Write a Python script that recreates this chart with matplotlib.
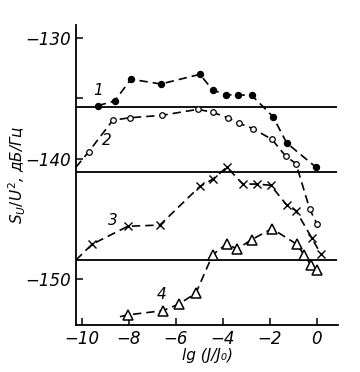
import matplotlib
matplotlib.use("Agg")
import matplotlib.pyplot as plt

# curve 1 - filled circles
x1 = [-9.32, -8.6, -7.91, -6.64, -4.98, -4.43, -3.87, -3.36, -2.77, -1.87, -1.28, -0.04]
y1 = [-135.6, -135.2, -133.4, -133.8, -133.0, -134.3, -134.7, -134.7, -134.75, -136.5, -138.7, -140.7]

# curve 2 - open circles
x2 = [-9.70, -8.68, -7.96, -6.60, -5.06, -4.43, -3.79, -3.32, -2.72, -1.91, -1.32, -0.89, -0.30, 0.0]
y2 = [-139.4, -136.8, -136.6, -136.4, -135.9, -136.15, -136.6, -137.05, -137.5, -138.4, -139.8, -140.4, -144.2, -145.4]

# curve 3 - crosses
x3 = [-9.57, -8.04, -6.68, -4.98, -4.43, -3.83, -3.15, -2.55, -1.96, -1.28, -0.89, -0.21, 0.17]
y3 = [-147.1, -145.6, -145.5, -142.3, -141.7, -140.7, -142.1, -142.1, -142.2, -143.85, -144.3, -146.6, -147.9]

# curve 4 - open triangles
x4 = [-8.04, -6.55, -5.87, -5.15, -4.43, -3.83, -3.40, -2.77, -1.91, -0.85, -0.55, -0.26, 0.0]
y4 = [-152.95, -152.6, -152.05, -151.15, -147.95, -147.05, -147.5, -146.7, -145.8, -147.1, -147.95, -148.8, -149.2]

# dashed line ends that carry no marker
line_start = {2: (-10.25, -140.7), 3: (-10.25, -148.4), 4: (-8.38, -153.1)}
line_end = {4: (0.26, -149.7), 2: (0.08, -146.1)}

hline_levels = [-135.7, -141.1, -148.4]
curve_labels = ["1", "2", "3", "4"]
label_pos = [(-9.3, -134.3), (-8.95, -138.5), (-8.7, -145.1), (-6.6, -151.3)]

xticks = [-10, -8, -6, -4, -2, 0]
yticks = [-130, -140, -150]

fig = plt.figure(figsize=(3.6, 3.72), dpi=100)
ax = fig.add_axes([0.211, 0.126, 0.728, 0.807])

curves = [
    (x1, y1, dict(marker='o', ms=4.3, mfc='black', mec='black')),
    (x2, y2, dict(marker='o', ms=4, mfc='white', mec='black', mew=0.9)),
    (x3, y3, dict(marker='x', ms=6, mec='black', mew=1.0)),
    (x4, y4, dict(marker='^', ms=7, mfc='white', mec='black', mew=1.1)),
]

for i, (xs, ys, mk) in enumerate(curves, start=1):
    lx, ly = list(xs), list(ys)
    if i in line_start:
        lx.insert(0, line_start[i][0]); ly.insert(0, line_start[i][1])
    if i in line_end:
        lx.append(line_end[i][0]); ly.append(line_end[i][1])
    ax.plot(lx, ly, color='black', lw=1.2, dashes=(5, 3), zorder=2)
    ax.plot(xs, ys, linestyle='none', zorder=3, **mk)

for lev in hline_levels:
    ax.hlines(lev, -10.25, 0.85, color='black', lw=1.3, zorder=1)

for lab, (lx, ly) in zip(curve_labels, label_pos):
    ax.text(lx, ly, lab, fontsize=11, style='italic', ha='center', va='center')

ax.set_xlim(-10.25, 0.9)
ax.set_ylim(-153.8, -128.9)
ax.set_xticks(xticks)
ax.set_yticks(yticks)
ax.set_yticks([-135], minor=True)
ax.tick_params(direction='in', length=5, width=1.1, labelsize=12)
ax.tick_params(which='minor', direction='in', length=5, width=1.1)
for t in ax.get_xticklabels() + ax.get_yticklabels():
    t.set_style('italic')

for s in ['top', 'right']:
    ax.spines[s].set_visible(False)
for s in ['left', 'bottom']:
    ax.spines[s].set_linewidth(1.3)

ax.set_ylabel('$S_U/U^2$, дБ/Гц', fontsize=11, style='italic', labelpad=-2)
ax.set_xlabel('lg (J/J₀)', fontsize=11, style='italic', labelpad=0)

fig.savefig('out.png', dpi=100)
